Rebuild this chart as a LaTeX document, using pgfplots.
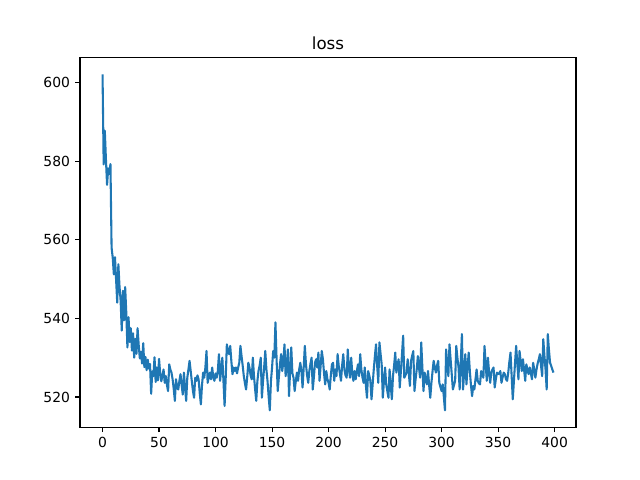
\documentclass[border=0pt]{standalone}
\usepackage{fontspec}
\setmainfont{DejaVu Sans}
\usepackage{pgfplots}
\pgfplotsset{compat=1.18}
\definecolor{mplblue}{HTML}{1F77B4}

\pgfplotstableread{
x y
0 602.1
1 579.2
2 587.8
3 580.5
4 574.0
5 578.2
6 576.8
7 579.3
8 558.0
9 555.5
10 551.2
11 555.6
12 549.8
13 544.0
14 553.8
15 548.2
16 544.5
17 536.9
18 547.0
19 539.5
20 548.0
21 541.5
22 532.6
23 540.3
24 534.0
25 537.5
26 531.8
27 536.2
28 530.0
29 534.8
30 531.0
31 537.5
32 533.2
33 529.8
34 531.5
35 528.5
36 533.7
37 527.6
38 530.2
39 526.8
40 529.5
41 527.2
42 528.4
43 520.8
44 526.5
45 525.3
46 530.1
47 523.8
48 527.5
49 524.2
50 529.7
51 526.0
52 524.0
53 525.5
54 527.0
55 523.6
56 525.3
57 523.0
58 521.5
59 528.3
60 527.0
61 526.2
62 524.5
63 522.0
64 519.0
65 524.5
66 522.5
67 521.9
68 524.1
69 525.8
70 523.0
71 520.6
72 526.2
73 522.5
74 519.0
75 524.9
76 527.0
77 529.2
78 526.6
79 524.0
80 521.5
81 519.8
82 524.9
83 524.1
84 525.5
85 524.5
86 521.0
87 518.1
88 523.0
89 526.2
90 524.9
91 527.5
92 531.7
93 523.6
94 525.0
95 526.2
96 524.5
97 527.5
98 525.0
99 524.1
100 526.0
101 524.9
102 526.6
103 530.9
104 524.1
105 527.0
106 530.0
107 524.0
108 517.7
109 525.0
110 533.4
111 531.7
112 530.9
113 533.0
114 529.0
115 525.8
116 527.5
117 526.6
118 527.5
119 526.0
120 527.5
121 528.7
122 533.0
123 530.4
124 528.0
125 525.3
126 523.5
127 521.9
128 525.0
129 528.7
130 527.5
131 525.5
132 524.5
133 530.0
134 525.3
135 522.0
136 519.0
137 524.0
138 526.6
139 528.0
140 530.0
141 519.8
142 524.0
143 527.5
144 531.7
145 527.0
146 524.0
147 520.0
148 516.6
149 524.0
150 527.5
151 531.7
152 530.0
153 539.0
154 529.6
155 521.5
156 525.0
157 528.3
158 530.9
159 526.6
160 529.0
161 533.4
162 525.3
163 528.0
164 532.1
165 520.2
166 527.0
167 532.6
168 526.0
169 524.9
170 521.5
171 524.0
172 526.2
173 524.1
174 527.0
175 528.7
176 526.6
177 522.4
178 527.5
179 533.0
180 528.3
181 525.5
182 523.6
183 526.6
184 528.5
185 530.0
186 521.9
187 525.0
188 528.7
189 529.6
190 527.5
191 531.3
192 524.1
193 528.0
194 531.7
195 529.6
196 526.0
197 523.2
198 526.6
199 524.5
200 523.6
201 521.9
202 525.5
203 528.3
204 528.7
205 524.1
206 527.0
207 525.3
208 530.9
209 527.9
210 526.0
211 524.1
212 528.0
213 530.9
214 527.0
215 525.5
216 524.9
217 532.1
218 527.0
219 524.9
220 530.0
221 526.0
222 524.1
223 526.6
224 524.5
225 526.5
226 528.3
227 525.3
228 530.9
229 527.0
230 525.0
231 523.6
232 527.5
233 523.0
234 519.8
235 526.6
236 525.5
237 524.1
238 519.4
239 523.2
240 527.0
241 530.4
242 533.4
243 528.0
244 523.6
245 533.9
246 531.0
247 528.3
248 519.8
249 524.0
250 527.5
251 523.2
252 521.5
253 519.8
254 527.0
255 523.0
256 519.4
257 525.3
258 528.0
259 531.3
260 526.2
261 528.0
262 529.6
263 522.4
264 526.6
265 531.0
266 535.6
267 524.9
268 525.5
269 526.2
270 529.6
271 526.0
272 522.8
273 529.2
274 530.5
275 531.7
276 521.5
277 524.5
278 527.0
279 530.4
280 527.5
281 524.9
282 533.9
283 527.5
284 521.5
285 526.2
286 524.5
287 523.2
288 526.6
289 523.0
290 519.8
291 523.6
292 526.5
293 529.2
294 527.5
295 526.2
296 528.0
297 529.2
298 523.6
299 522.5
300 521.5
301 523.2
302 520.0
303 516.6
304 532.1
305 528.5
306 525.3
307 533.4
308 529.5
309 525.8
310 521.9
311 523.0
312 524.1
313 533.0
314 530.0
315 527.5
316 521.9
317 529.0
318 536.0
319 521.9
320 526.5
321 530.9
322 523.2
323 527.5
324 531.3
325 526.6
326 523.0
327 520.2
328 522.8
329 521.9
330 524.5
331 527.0
332 524.1
333 523.5
334 523.2
335 526.6
336 525.5
337 524.9
338 533.0
339 528.5
340 524.1
341 530.0
342 526.5
343 523.6
344 526.2
345 527.0
346 527.5
347 522.4
348 524.5
349 526.2
350 525.8
351 526.0
352 526.6
353 523.6
354 525.0
355 526.2
356 525.8
357 524.5
358 524.1
359 526.2
360 529.0
361 531.3
362 525.3
363 519.4
364 524.0
365 528.7
366 533.0
367 528.5
368 524.5
369 531.7
370 529.0
371 526.6
372 529.6
373 527.0
374 524.1
375 528.3
376 527.0
377 525.8
378 527.5
379 526.0
380 524.5
381 528.7
382 527.0
383 524.9
384 527.0
385 528.5
386 529.6
387 530.9
388 528.0
389 525.3
390 534.7
391 530.5
392 527.0
393 521.9
394 536.0
395 532.0
396 528.7
397 527.9
398 527.0
399 526.2
}\losstable

\begin{document}
\begin{tikzpicture}
% page = 640x480 px at 0.72pt per px
\path[use as bounding box] (-57.6pt,-38.02pt) rectangle (403.2pt,307.58pt);
\begin{axis}[
    scale only axis,
    width=357.12pt,
    height=266.11pt,
    xmin=-19.95, xmax=418.95,
    ymin=512.3, ymax=606.4,
    xtick={0,50,...,400},
    ytick={520,540,...,600},
    tick align=outside,
    xtick pos=left,
    ytick pos=left,
    major tick length=3.5pt,
    axis line style={line width=0.8pt},
    every tick/.style={black, line width=0.8pt},
    tick label style={font=\fontsize{10}{12}\selectfont, inner sep=0pt},
    xticklabel style={anchor=north, yshift=-3.5pt},
    yticklabel style={anchor=east, xshift=-3.5pt},
    /pgf/number format/assume math mode=true,
    /pgf/number format/1000 sep={},
    title={loss},
    title style={font=\fontsize{12}{14}\selectfont, anchor=base, inner sep=0pt},
]
\addplot[mplblue, line width=1.5pt, line join=round] table[x=x, y=y] {\losstable};
\end{axis}
\end{tikzpicture}
\end{document}
